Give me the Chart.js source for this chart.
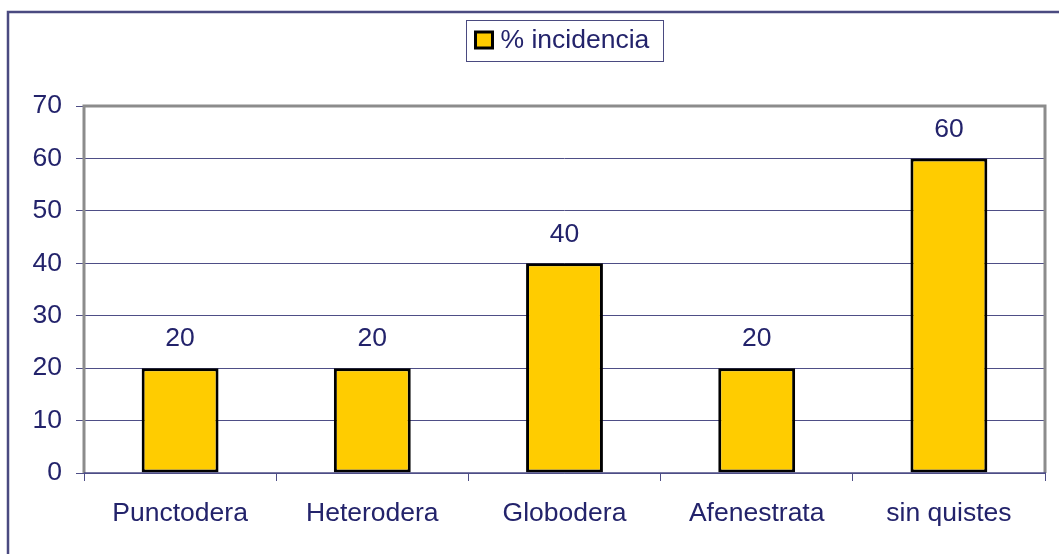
<!DOCTYPE html>
<html>
<head>
<meta charset="utf-8">
<script src="https://cdn.jsdelivr.net/npm/chart.js@4/dist/chart.umd.min.js"></script>
<style>
  html, body { margin: 0; padding: 0; background: #fff; }
  #wrap { position: relative; width: 1059px; height: 554px; }
</style>
</head>
<body>
<div id="wrap"><canvas id="myChart" width="1059" height="554"></canvas></div>
<script>
'use strict';

var categories = ["Punctodera", "Heterodera", "Globodera", "Afenestrata", "sin quistes"];
var incidencia = [20, 20, 40, 20, 60];
var yTicks = [0, 10, 20, 30, 40, 50, 60, 70];

var navy = "#23236b";
var gridNavy = "#4e4e86";
var font = "'Liberation Sans', Arial, sans-serif";
var fontSize = 26.5;

// marco exterior, borde gris del area y leyenda recuadrada
var frame = {
    id: 'frame',
    beforeDraw: function (chart) {
        var ctx = chart.ctx;
        ctx.save();
        ctx.strokeStyle = "#4a4a80";
        ctx.lineWidth = 2.5;
        ctx.strokeRect(8, 12, 2000, 2000);
        ctx.restore();
    },
    afterDatasetsDraw: function (chart) {
        var ctx = chart.ctx, a = chart.chartArea;
        ctx.save();
        ctx.strokeStyle = "#8c8c8c";
        ctx.lineWidth = 3;
        ctx.beginPath();
        ctx.moveTo(a.left, a.bottom);
        ctx.lineTo(a.left, a.top);
        ctx.lineTo(a.right, a.top);
        ctx.lineTo(a.right, a.bottom);
        ctx.stroke();
        ctx.strokeStyle = gridNavy;
        ctx.lineWidth = 1.5;
        ctx.beginPath();
        ctx.moveTo(a.left, a.bottom);
        ctx.lineTo(a.right + 1, a.bottom);
        ctx.stroke();

        // valores sobre las barras
        var meta = chart.getDatasetMeta(0);
        ctx.fillStyle = navy;
        ctx.font = fontSize + "px " + font;
        ctx.textAlign = "center";
        ctx.textBaseline = "middle";
        meta.data.forEach(function (bar, i) {
            ctx.fillText(String(chart.data.datasets[0].data[i]), bar.x, bar.y - 29);
        });

        // leyenda
        var ds = chart.data.datasets[0];
        var cx = (a.left + a.right) / 2;
        var boxW = 197, boxH = 41;
        var bx = Math.round(cx - boxW / 2) + 0.5, by = 20.5;
        ctx.strokeStyle = "#4a4a80";
        ctx.lineWidth = 1;
        ctx.strokeRect(bx, by, boxW, boxH);
        ctx.fillStyle = ds.backgroundColor;
        ctx.fillRect(bx + 9, 32, 17, 16);
        ctx.strokeStyle = "#000";
        ctx.lineWidth = 3;
        ctx.strokeRect(bx + 9, 32, 17, 16);
        ctx.fillStyle = navy;
        ctx.textAlign = "left";
        ctx.fillText(ds.label, bx + 34, 41);
        ctx.restore();
    }
};

var ctx = document.getElementById("myChart");
var myChart = new Chart(ctx, {
    type: 'bar',
    data: {
        labels: categories,
        datasets: [
            {
                label: "% incidencia",
                backgroundColor: "#ffcc00",
                borderColor: "#000000",
                borderWidth: 3,
                borderSkipped: false,
                barPercentage: 0.4,
                categoryPercentage: 1.0,
                data: incidencia
            }
        ]
    },
    options: {
        responsive: false,
        animation: false,
        layout: { padding: { left: 0, right: 14, top: 106, bottom: 0 } },
        plugins: {
            legend: { display: false },
            tooltip: { enabled: false }
        },
        scales: {
            x: {
                afterFit: function (scale) { scale.height = 81; },
                grid: {
                    offset: true,
                    drawOnChartArea: false,
                    drawTicks: true,
                    tickLength: 8,
                    color: gridNavy
                },
                border: { display: false },
                ticks: {
                    color: navy,
                    padding: 17,
                    font: { family: font, size: fontSize }
                }
            },
            y: {
                min: 0,
                max: 70,
                afterFit: function (scale) { scale.width = 84; },
                afterBuildTicks: function (scale) {
                    scale.ticks = yTicks.map(function (v) { return { value: v }; });
                },
                grid: {
                    color: gridNavy,
                    lineWidth: 1,
                    tickLength: 8
                },
                border: { display: false },
                ticks: {
                    color: navy,
                    padding: 14,
                    font: { family: font, size: fontSize }
                }
            }
        }
    },
    plugins: [frame]
});
</script>
</body>
</html>
